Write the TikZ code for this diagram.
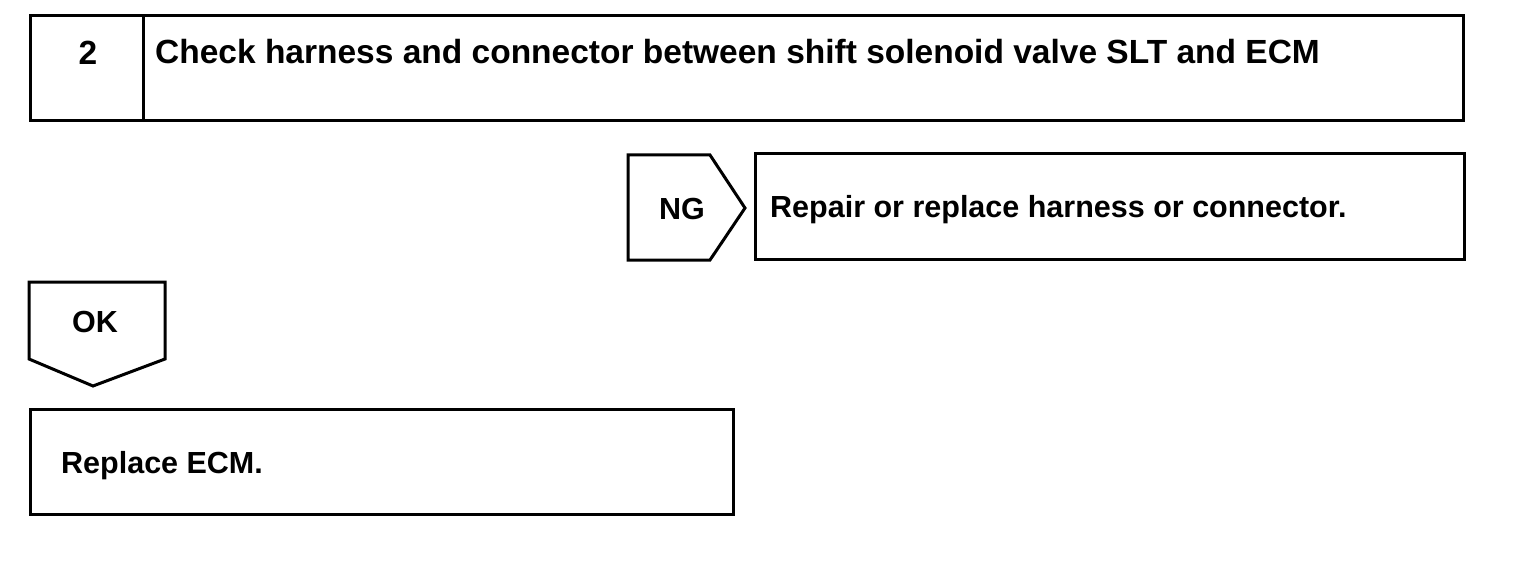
\documentclass[tikz,border=0pt]{standalone}
\usepackage{fontspec}
\setmainfont{Liberation Sans}
\begin{document}
\begin{tikzpicture}[x=1pt,y=-1pt,
  frame/.style={draw=black,line width=3pt,line join=miter},
  big/.style={font=\fontsize{33.5}{38}\selectfont\bfseries,inner sep=0pt},
  lbl/.style={font=\fontsize{30.5}{35}\selectfont\bfseries,inner sep=0pt,anchor=base},
  txt/.style={font=\fontsize{30.5}{35}\selectfont\bfseries,inner sep=0pt,anchor=base west}]
\useasboundingbox (0,0) rectangle (1520,572);
% top box
\draw[frame] (30,16) rectangle (1463,121);
\draw[frame] (143,16) -- (143,121);
\node[big,anchor=base] (num) at (88,65) {2};
\node[big,anchor=base west] (title) at (155,64) {Check harness and connector between shift solenoid valve SLT and ECM};
% NG
\draw[frame] (628,155) -- (710,155) -- (745,208) -- (710,260) -- (628,260) -- cycle;
\node[lbl] (ng) at (682,219) {NG};
\draw[frame] (755,154) rectangle (1464,259);
\node[txt] (repair) at (770,218) {Repair or replace harness or connector.};
% OK
\draw[frame] (29,282) -- (165,282) -- (165,359) -- (93,386) -- (29,359) -- cycle;
\node[lbl] (ok) at (95,332) {OK};
\draw[frame] (30,409) rectangle (733,514);
\node[txt] (replace) at (61,473) {Replace ECM.};
\end{tikzpicture}
\end{document}
